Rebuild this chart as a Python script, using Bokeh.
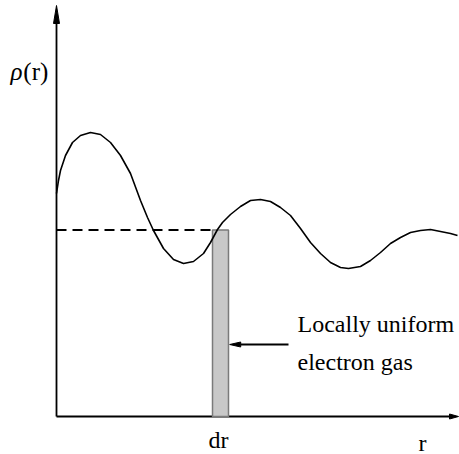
from bokeh.plotting import figure
from bokeh.models import Range1d
from bokeh.core.properties import value
from bokeh.embed import file_html
from bokeh.resources import INLINE

# Radial density profile rho(r), sampled along the curve
r_vals = [0.000, 0.050, 0.100, 0.225, 0.400, 0.600, 0.850, 1.100, 1.350, 1.600,
          1.850, 2.100, 2.275, 2.425, 2.675, 2.925, 3.175, 3.425, 3.675, 3.850,
          4.025, 4.150, 4.350, 4.600, 4.850, 5.100, 5.350, 5.600, 5.850, 6.100,
          6.350, 6.600, 6.850, 7.100, 7.300, 7.600, 7.850, 8.100, 8.350, 8.600,
          8.850, 9.100, 9.350, 9.600, 9.850, 10.025]
rho_vals = [5.575, 5.900, 6.150, 6.525, 6.850, 7.025, 7.100, 7.050, 6.850, 6.525,
            6.075, 5.400, 4.975, 4.650, 4.200, 3.925, 3.825, 3.875, 4.075, 4.350,
            4.675, 4.850, 5.050, 5.250, 5.400, 5.425, 5.375, 5.225, 5.025, 4.700,
            4.350, 4.075, 3.850, 3.725, 3.700, 3.750, 3.900, 4.100, 4.325, 4.475,
            4.600, 4.650, 4.675, 4.625, 4.575, 4.525]

# Shell of width dr at r_local, treated as a uniform electron gas of density rho_local
r_local = 4.1
dr = 0.4
rho_local = 4.66

# Axis extents (data units)
r_axis_end = 10.05
rho_axis_end = 10.275

label_rho = "\u03c1"
label_rho_arg = "(r)"
label_dr = "dr"
label_r = "r"
note_lines = ["Locally uniform", "electron gas"]

PX = 40.0  # pixels per data unit on both axes

p = figure(width=459, height=454, output_backend="svg", toolbar_location=None,
           x_axis_location=None, y_axis_location=None, min_border=0,
           x_range=Range1d(-1.4, 10.075), y_range=Range1d(-0.95, 10.4))
p.outline_line_color = None
p.grid.visible = False
p.background_fill_color = "white"
p.border_fill_color = "white"


def head(tip_x, tip_y, ux, uy, length_px, width_px):
    """Triangle arrowhead pointing along (ux, uy) with its tip at (tip_x, tip_y)."""
    L = length_px / PX
    W = width_px / PX / 2
    bx, by = tip_x - ux * L, tip_y - uy * L
    nx, ny = -uy, ux
    xs = [tip_x, bx + nx * W, bx - nx * W]
    ys = [tip_y, by + ny * W, by - ny * W]
    p.patch(xs, ys, fill_color="black", line_color="black", line_width=1)
    return bx, by


font = value("Liberation Serif")

# Axes with arrowheads
by_ = head(0, rho_axis_end, 0, 1, 18, 6)[1]
p.line([0, 0], [0, by_], line_color="black", line_width=1.8)
bx_ = head(r_axis_end, 0, 1, 0, 9, 5)[0]
p.line([0, bx_], [0, 0], line_color="black", line_width=2.2)

# Dashed level of the local density
p.line([0, r_local - dr / 2], [rho_local, rho_local], line_color="black",
       line_width=2, line_dash="10 6")

# The shell dr
p.quad(left=[r_local - dr / 2], right=[r_local + dr / 2], bottom=[0], top=[rho_local],
       fill_color="#c8c8c8", line_color="#7a7a7a", line_width=1.5)

# Density curve
p.line(r_vals, rho_vals, line_color="black", line_width=1.6, line_join="round")

# Pointer to the shell
tip_x = r_local + dr / 2 + 0.03
bx2 = head(tip_x, 1.8, -1, 0, 11, 5)[0]
p.line([5.8, bx2], [1.8, 1.8], line_color="black", line_width=1.8)

# Texts
p.text(x=[-1.15], y=[8.625], text=[label_rho], text_font=font, text_font_size="25px",
       text_font_style="italic", text_baseline="alphabetic", text_align="left",
       text_color="black")
p.text(x=[-0.83], y=[8.625], text=[label_rho_arg], text_font=font, text_font_size="25px",
       text_baseline="alphabetic", text_align="left", text_color="black")
p.text(x=[r_local - 0.05], y=[-0.575], text=[label_dr], text_font=font,
       text_font_size="24px", text_baseline="alphabetic", text_align="center",
       text_color="black")
p.text(x=[9.15], y=[-0.65], text=[label_r], text_font=font, text_font_size="24px",
       text_baseline="alphabetic", text_align="center", text_color="black")
p.text(x=[6.025, 6.025], y=[2.325, 1.375], text=note_lines, text_font=font,
       text_font_size="24px", text_baseline="alphabetic", text_align="left",
       text_color="black")

open("out.html", "w").write(file_html(p, INLINE))
